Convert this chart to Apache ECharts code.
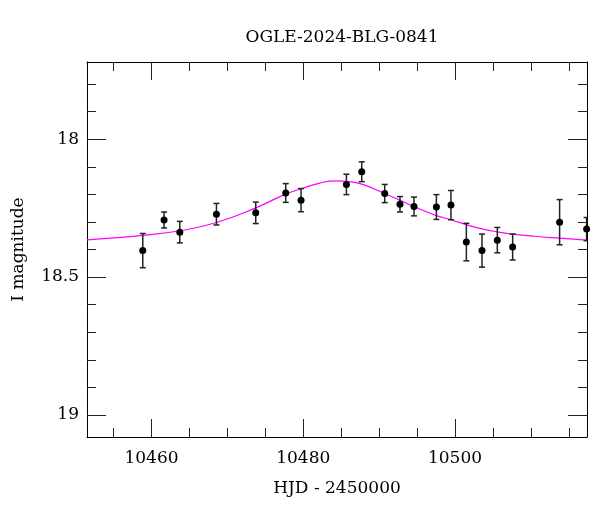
<!DOCTYPE html>
<html>
<head>
<meta charset="utf-8">
<script src="https://cdn.jsdelivr.net/npm/echarts@6/dist/echarts.min.js"></script>
<style>
html,body{margin:0;padding:0;background:#fff;}
#chart{width:600px;height:512px;}
</style>
</head>
<body>
<div id="chart"></div>
<script>
// Observed data points
const hjd = [10458.85, 10461.66, 10463.73, 10468.56, 10473.74, 10477.69, 10479.71, 10485.69, 10487.71, 10490.74,
             10492.75, 10494.60, 10497.55, 10499.47, 10501.50, 10503.56, 10505.58, 10507.60, 10513.79, 10517.35];
const mag = [18.404, 18.293, 18.337, 18.272, 18.267, 18.195, 18.221, 18.164, 18.118, 18.197,
             18.236, 18.244, 18.246, 18.239, 18.373, 18.404, 18.366, 18.391, 18.301, 18.326];
const magErr = [0.062, 0.029, 0.039, 0.039, 0.039, 0.034, 0.042, 0.037, 0.036, 0.033,
                0.028, 0.034, 0.045, 0.053, 0.068, 0.060, 0.046, 0.047, 0.082, 0.042];
// Model curve
const curveHjd = [10451.5, 10455.0, 10458.85, 10463.73, 10468.56, 10473.74, 10477.69, 10479.93, 10482.17, 10484.37,
                  10485.69, 10487.71, 10490.74, 10492.76, 10494.60, 10497.55, 10499.48, 10501.50, 10503.56,
                  10505.58, 10507.60, 10510.5, 10513.79, 10517.4];
const curveMag = [18.365, 18.358, 18.349, 18.332, 18.302, 18.249, 18.199, 18.178, 18.159, 18.151,
                  18.153, 18.163, 18.197, 18.222, 18.244, 18.277, 18.292, 18.310, 18.325,
                  18.336, 18.344, 18.352, 18.359, 18.366];
// Ticks
const xMajor = [10460, 10480, 10500];
const xMinor = [10455, 10460, 10465, 10470, 10475, 10480, 10485, 10490, 10495, 10500, 10505, 10510, 10515];
const yMajor = [18, 18.5, 19];
const yMinor = [17.8, 17.9, 18.0, 18.1, 18.2, 18.3, 18.4, 18.5, 18.6, 18.7, 18.8, 18.9, 19.0];

const xMin = 10451.5, xMax = 10517.4;
const yMin = 17.72, yMax = 19.08;
const FONT = 'DejaVu Serif';
const lineCol = '#000';

function xAx(pos, ticks, len, showLine, labels, extra) {
  return Object.assign({
    type: 'value', position: pos, min: xMin, max: xMax,
    axisLine: {show: showLine, onZero: false, lineStyle: {color: lineCol, width: 1}},
    axisTick: {show: true, inside: true, length: len, customValues: ticks, lineStyle: {color: '#222', width: 1}},
    axisLabel: labels ? {show: true, customValues: labels, formatter: v => String(v),
      fontFamily: FONT, fontSize: 17, color: '#000', margin: 13} : {show: false},
    splitLine: {show: false}
  }, extra || {});
}
function yAx(pos, ticks, len, showLine, labels, extra) {
  return Object.assign({
    type: 'value', position: pos, min: yMin, max: yMax, inverse: true,
    axisLine: {show: showLine, onZero: false, lineStyle: {color: lineCol, width: 1}},
    axisTick: {show: true, inside: true, length: len, customValues: ticks, lineStyle: {color: '#222', width: 1}},
    axisLabel: labels ? {show: true, customValues: labels, formatter: v => String(v),
      fontFamily: FONT, fontSize: 17, color: '#000', margin: 8} : {show: false},
    splitLine: {show: false}
  }, extra || {});
}

const chart = echarts.init(document.getElementById('chart'), null, {renderer: 'canvas'});
const errData = hjd.map((x, i) => [x, mag[i], magErr[i]]);
const ptData = hjd.map((x, i) => [x, mag[i]]);
const curveData = curveHjd.map((x, i) => [x, curveMag[i]]);

chart.setOption({
  animation: false,
  backgroundColor: '#fff',
  title: {
    text: 'OGLE-2024-BLG-0841', left: 337, top: 24, textAlign: 'center',
    textStyle: {fontFamily: FONT, fontSize: 17, fontWeight: 'normal', color: '#000'}
  },
  grid: {left: 87, right: 13, top: 62, bottom: 75, containLabel: false},
  xAxis: [
    xAx('bottom', xMajor, 18, true, xMajor, {
      name: 'HJD - 2450000', nameLocation: 'middle', nameGap: 43,
      nameTextStyle: {fontFamily: FONT, fontSize: 17, color: '#000'}
    }),
    xAx('bottom', xMinor, 9, false, null),
    xAx('top', xMajor, 18, true, null),
    xAx('top', xMinor, 9, false, null)
  ],
  yAxis: [
    yAx('left', yMajor, 19, true, yMajor, {
      name: 'I magnitude', nameLocation: 'middle', nameGap: 60,
      nameTextStyle: {fontFamily: FONT, fontSize: 17, color: '#000'}
    }),
    yAx('left', yMinor, 9, false, null),
    yAx('right', yMajor, 19, true, null),
    yAx('right', yMinor, 9, false, null)
  ],
  series: [
    {
      type: 'line', xAxisIndex: 0, yAxisIndex: 0, data: curveData,
      smooth: true, symbol: 'none', clip: true,
      lineStyle: {color: '#ff00ff', width: 1.2}, z: 2
    },
    {
      type: 'custom', xAxisIndex: 0, yAxisIndex: 0, data: errData, clip: true, z: 3,
      renderItem: function (params, api) {
        const x = api.value(0), y = api.value(1), e = api.value(2);
        const t = api.coord([x, y - e]);
        const b = api.coord([x, y + e]);
        const w = 3;
        const st = {stroke: '#222', lineWidth: 1.5};
        return {
          type: 'group',
          children: [
            {type: 'line', shape: {x1: t[0], y1: t[1], x2: b[0], y2: b[1]}, style: st},
            {type: 'line', shape: {x1: t[0] - w, y1: t[1], x2: t[0] + w, y2: t[1]}, style: st},
            {type: 'line', shape: {x1: b[0] - w, y1: b[1], x2: b[0] + w, y2: b[1]}, style: st}
          ]
        };
      }
    },
    {
      type: 'scatter', xAxisIndex: 0, yAxisIndex: 0, data: ptData, clip: true, z: 4,
      symbol: 'circle', symbolSize: 7, itemStyle: {color: '#000', opacity: 1}
    }
  ]
});
</script>
</body>
</html>
